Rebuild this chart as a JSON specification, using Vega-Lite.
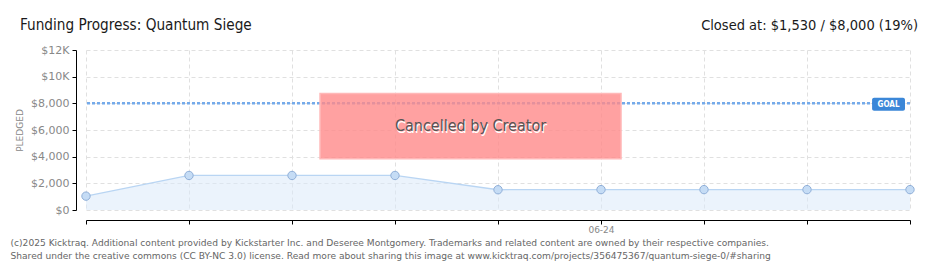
{
  "$schema": "https://vega.github.io/schema/vega-lite/v6.json",
  "width": 824,
  "height": 160,
  "autosize": {"type": "none"},
  "padding": {"left": 86, "top": 50, "right": 30, "bottom": 60},
  "background": "white",
  "config": {
    "view": {"stroke": null},
    "font": "DejaVu Sans Condensed, DejaVu Sans, sans-serif"
  },
  "data": {"values": [{}]},
  "datasets": {
    "pledges": [
      {"date": "2025-06-19", "pledged": 1040},
      {"date": "2025-06-20", "pledged": 2590},
      {"date": "2025-06-21", "pledged": 2590},
      {"date": "2025-06-22", "pledged": 2590},
      {"date": "2025-06-23", "pledged": 1520},
      {"date": "2025-06-24", "pledged": 1530},
      {"date": "2025-06-25", "pledged": 1530},
      {"date": "2025-06-26", "pledged": 1530},
      {"date": "2025-06-27", "pledged": 1530}
    ]
  },
  "layer": [
    {
      "data": {"name": "pledges"},
      "mark": {"type": "area", "color": "#dbe9fa", "opacity": 0.55},
      "encoding": {
        "x": {
          "field": "date",
          "type": "temporal",
          "scale": {
            "type": "utc",
            "domain": [
              {"year": 2025, "month": 6, "date": 19, "utc": true},
              {"year": 2025, "month": 6, "date": 27, "utc": true}
            ]
          },
          "axis": {
            "offset": 10,
            "tickCount": {"interval": "day", "step": 1},
            "labelExpr": "utcFormat(datum.value, '%m-%d') == '06-24' ? '06-24' : ''",
            "labelColor": "#888",
            "labelFont": "DejaVu Sans, sans-serif",
            "labelFontSize": 9,
            "labelPadding": 1,
            "labelOverlap": false,
            "domainColor": "#000",
            "tickColor": "#000",
            "tickSize": 4,
            "grid": true,
            "gridColor": "#e0e0e0",
            "gridDash": [4, 3],
            "title": [
              "(c)2025 Kicktraq. Additional content provided by Kickstarter Inc. and Deseree Montgomery. Trademarks and related content are owned by their respective companies.",
              "Shared under the creative commons (CC BY-NC 3.0) license. Read more about sharing this image at www.kicktraq.com/projects/356475367/quantum-siege-0/#sharing"
            ],
            "titleFont": "DejaVu Sans, Verdana, sans-serif",
            "titleFontSize": 9.1,
            "titleFontWeight": "normal",
            "titleColor": "#666",
            "titleAnchor": "start",
            "titleAlign": "left",
            "titleBaseline": "top",
            "titleX": -76,
            "titleY": 18,
            "titleLineHeight": 13
          }
        },
        "y": {
          "field": "pledged",
          "type": "quantitative",
          "scale": {"domain": [0, 12000], "nice": false},
          "axis": {
            "offset": 10,
            "tickCount": 12,
            "values": [0, 1000, 2000, 3000, 4000, 5000, 6000, 7000, 8000, 9000, 10000, 11000, 12000],
            "labelExpr": "datum.value % 2000 ? '' : (datum.value >= 10000 ? '$' + (datum.value / 1000) + 'K' : '$' + format(datum.value, ','))",
            "labelColor": "#888",
            "labelFont": "DejaVu Sans, sans-serif",
            "labelFontSize": 11,
            "labelPadding": 3,
            "labelOverlap": false,
            "domainColor": "#000",
            "tickColor": {"condition": {"test": "datum.value % 2000", "value": "#e00000"}, "value": "#000"},
            "tickSize": 4,
            "grid": true,
            "gridColor": {"condition": {"test": "datum.value % 2000", "value": "transparent"}, "value": "#e0e0e0"},
            "gridDash": [4, 3],
            "title": "PLEDGED",
            "titleColor": "#888",
            "titleFont": "DejaVu Sans, sans-serif",
            "titleFontSize": 9,
            "titleFontWeight": "normal",
            "titlePadding": 6
          }
        }
      }
    },
    {
      "data": {"name": "pledges"},
      "mark": {"type": "line", "color": "#b9d5f3", "strokeWidth": 1.3},
      "encoding": {
        "x": {"field": "date", "type": "temporal"},
        "y": {"field": "pledged", "type": "quantitative"}
      }
    },
    {
      "data": {"name": "pledges"},
      "mark": {"type": "point", "shape": "circle", "filled": true, "fill": "#c5dcf5", "stroke": "#90afd8", "strokeWidth": 1, "size": 70, "opacity": 1},
      "encoding": {
        "x": {"field": "date", "type": "temporal"},
        "y": {"field": "pledged", "type": "quantitative"}
      }
    },
    {
      "mark": {"type": "rule", "color": "#74aaea", "strokeWidth": 2.5, "strokeDash": [3, 2]},
      "encoding": {"y": {"datum": 8000}}
    },
    {
      "mark": {"type": "rect", "fill": "#ff8a8a", "fillOpacity": 0.8, "stroke": "#ffb8b8", "strokeWidth": 1.5},
      "encoding": {
        "x": {"datum": {"year": 2025, "month": 6, "date": 21, "hours": 6, "minutes": 32, "utc": true}},
        "x2": {"datum": {"year": 2025, "month": 6, "date": 24, "hours": 4, "minutes": 40, "utc": true}},
        "y": {"datum": 8740},
        "y2": {"datum": 3850}
      }
    },
    {
      "mark": {"type": "text", "text": "Cancelled by Creator", "fontSize": 16, "color": "#ffffff", "dx": 1, "dy": 1.5, "font": "DejaVu Sans Condensed, Liberation Sans Narrow, sans-serif"},
      "encoding": {
        "x": {"datum": {"year": 2025, "month": 6, "date": 22, "hours": 17, "minutes": 36, "utc": true}},
        "y": {"datum": 6296}
      }
    },
    {
      "mark": {"type": "text", "text": "Cancelled by Creator", "fontSize": 16, "color": "#555555", "font": "DejaVu Sans Condensed, Liberation Sans Narrow, sans-serif"},
      "encoding": {
        "x": {"datum": {"year": 2025, "month": 6, "date": 22, "hours": 17, "minutes": 36, "utc": true}},
        "y": {"datum": 6296}
      }
    },
    {
      "mark": {"type": "rect", "fill": "#3b87d8", "cornerRadius": 2},
      "encoding": {
        "x": {"datum": {"year": 2025, "month": 6, "date": 26, "hours": 15, "minutes": 10, "utc": true}},
        "x2": {"datum": {"year": 2025, "month": 6, "date": 26, "hours": 22, "minutes": 50, "utc": true}},
        "y": {"datum": 8420},
        "y2": {"datum": 7450}
      }
    },
    {
      "mark": {"type": "text", "text": "GOAL", "fontSize": 8, "color": "#ffffff", "fontWeight": "bold", "dy": 0.5},
      "encoding": {
        "x": {"datum": {"year": 2025, "month": 6, "date": 26, "hours": 19, "utc": true}},
        "y": {"datum": 7935}
      }
    },
    {
      "mark": {"type": "text", "text": "Funding Progress: Quantum Siege", "fontSize": 15.2, "color": "#1a1a1a", "align": "left", "baseline": "alphabetic", "dx": -66, "dy": -20, "font": "DejaVu Sans Condensed, Liberation Sans Narrow, sans-serif"},
      "encoding": {
        "x": {"datum": {"year": 2025, "month": 6, "date": 19, "utc": true}},
        "y": {"datum": 12000}
      }
    },
    {
      "mark": {"type": "text", "text": "Closed at:  $1,530 /  $8,000 (19%)", "fontSize": 14.5, "color": "#1a1a1a", "align": "right", "baseline": "alphabetic", "dx": 8, "dy": -20, "font": "DejaVu Sans Condensed, Liberation Sans Narrow, sans-serif"},
      "encoding": {
        "x": {"datum": {"year": 2025, "month": 6, "date": 27, "utc": true}},
        "y": {"datum": 12000}
      }
    }
  ]
}
